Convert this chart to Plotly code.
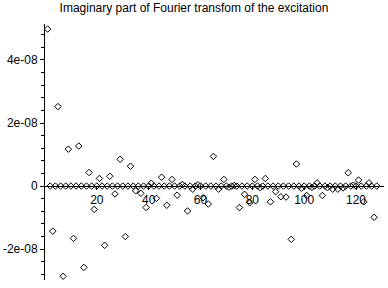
import plotly.graph_objects as go

# odd indices carry the non-zero imaginary values, even indices are zero
odd_k = list(range(1, 128, 2))
odd_vals_e8 = [
    4.98, -1.43, 2.52, -2.86, 1.17, -1.66, 1.27, -2.58,
    0.43, -0.74, 0.24, -1.88, 0.31, -0.25, 0.85, -1.60,
    0.63, -0.15, -0.23, -0.68, 0.09, -0.39, 0.28, -0.61,
    0.21, -0.29, 0.05, -0.79, -0.10, 0.04, -0.37, -0.57,
    0.94, -0.10, 0.21, -0.04, 0.02, -0.68, -0.26, -0.53,
    0.21, -0.05, 0.24, -0.50, -0.18, -0.34, -0.35, -1.69,
    0.70, -0.07, -0.30, -0.04, 0.10, -0.30, -0.05, -0.10,
    -0.10, -0.06, 0.42, 0.03, 0.19, -0.50, 0.10, -0.99,
]
even_k = list(range(2, 129, 2))
even_vals = [0.0] * len(even_k)

x_ticks = [20, 40, 60, 80, 100, 120]
y_ticks = [-2e-08, 0, 2e-08, 4e-08]
y_tick_text = ["-2e-08", "0", "2e-08", "4e-08"]

odd_vals = [v * 1e-8 for v in odd_vals_e8]

ymin, ymax = -2.98e-08, 5.14e-08
xmin, xmax = 0, 130.8

marker = dict(symbol="diamond-open", size=5, color="black", line=dict(width=1, color="black"))

fig = go.Figure()
fig.add_trace(go.Scatter(x=even_k, y=even_vals, mode="markers", marker=marker, showlegend=False, cliponaxis=False))
fig.add_trace(go.Scatter(x=odd_k, y=odd_vals, mode="markers", marker=marker, showlegend=False, cliponaxis=False))

font = dict(family="Liberation Sans, Arial, sans-serif", size=12, color="black")

fig.update_layout(
    width=388, height=288,
    margin=dict(l=45, r=4, t=24, b=8),
    paper_bgcolor="white", plot_bgcolor="white",
    title=dict(text="Imaginary part of Fourier transfom of the excitation",
               x=0.5, xanchor="center", y=1 - 8 / 288, yanchor="middle",
               yref="container", font=font),
    font=font,
    xaxis=dict(range=[xmin, xmax], showgrid=False, zeroline=False,
               showline=True, linecolor="black", linewidth=1,
               anchor="free", position=(0 - ymin) / (ymax - ymin),
               tickvals=x_ticks, ticktext=[str(t) for t in x_ticks],
               ticks="outside", ticklen=3, tickcolor="black", tickfont=font),
    yaxis=dict(range=[ymin, ymax], showgrid=False, zeroline=False,
               showline=True, linecolor="black", linewidth=1,
               tickvals=y_ticks, ticktext=y_tick_text,
               ticks="outside", ticklen=4, tickcolor="black", tickfont=font,
               minor=dict(dtick=0.4e-08, tick0=0, ticks="outside", ticklen=3, tickcolor="black")),
)

fig.write_html("out.html")
